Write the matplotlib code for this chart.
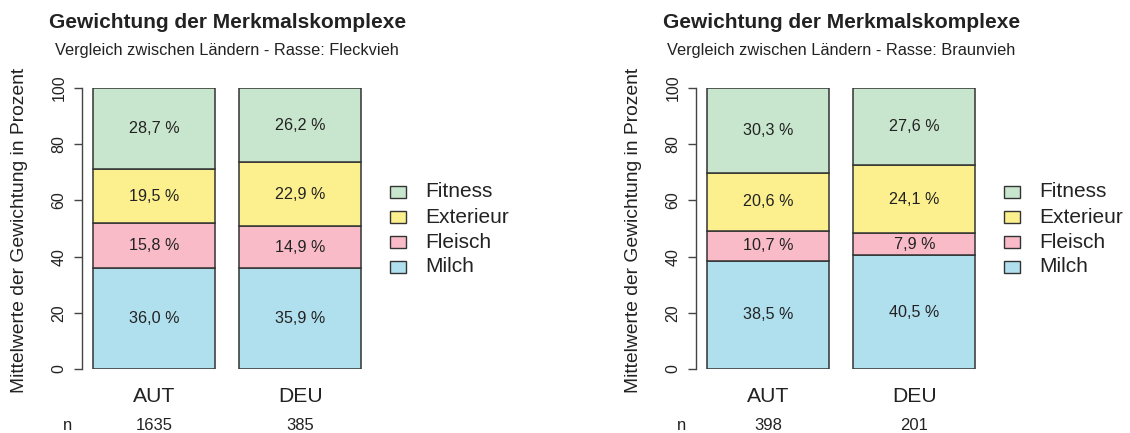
import matplotlib
matplotlib.use("Agg")
import matplotlib.pyplot as plt
from matplotlib.patches import Rectangle

plt.rcParams['font.family'] = ['Liberation Sans', 'DejaVu Sans']

countries = ["AUT", "DEU"]
categories = ["Milch", "Fleisch", "Exterieur", "Fitness"]
colors = ["#B0DFEE", "#F8BBC7", "#FCF08E", "#C8E6CD"]

fleckvieh = {
    "Milch": [36.0, 35.9],
    "Fleisch": [15.8, 14.9],
    "Exterieur": [19.5, 22.9],
    "Fitness": [28.7, 26.2],
}
braunvieh = {
    "Milch": [38.5, 40.5],
    "Fleisch": [10.7, 7.9],
    "Exterieur": [20.6, 24.1],
    "Fitness": [30.3, 27.6],
}
n_fleckvieh = [1635, 385]
n_braunvieh = [398, 201]

title = "Gewichtung der Merkmalskomplexe"
subtitles = ["Vergleich zwischen Ländern - Rasse: Fleckvieh",
             "Vergleich zwischen Ländern - Rasse: Braunvieh"]
ylabel = "Mittelwerte der Gewichtung in Prozent"

W, H = 1130, 433
fig = plt.figure(figsize=(W / 100, H / 100), dpi=100)
TXT = "#222222"
EDGE = "#333333"


def fx(px):
    return px / W


def fy(py):
    return 1 - py / H


def fmt(v):
    return f"{v:.1f}".replace(".", ",") + " %"


def panel(axis_x, data, ns, subtitle):
    unit = 122.0
    x0 = 0.11
    width_px = 300
    ax = fig.add_axes([fx(axis_x), fy(369), width_px / W, (369 - 88) / H])
    ax.set_xlim(x0, x0 + width_px / unit)
    ax.set_ylim(0, 100)
    centers = [0.7, 1.9]
    bottoms = [0.0, 0.0]
    for cat, col in zip(categories, colors):
        vals = data[cat]
        ax.bar(centers, vals, width=1.0, bottom=bottoms, color=col,
               edgecolor=EDGE, linewidth=1.1, zorder=2)
        for c, b, v in zip(centers, bottoms, vals):
            ax.text(c, b + v / 2, fmt(v), ha="center", va="center",
                    fontsize=11.6, color=TXT)
        bottoms = [b + v for b, v in zip(bottoms, vals)]
    for s in ["top", "right", "bottom"]:
        ax.spines[s].set_visible(False)
    ax.spines["left"].set_bounds(0, 100)
    ax.spines["left"].set_color("#444444")
    ax.spines["left"].set_linewidth(1.0)
    ax.set_xticks([])
    ax.set_yticks([0, 20, 40, 60, 80, 100])
    ax.tick_params(axis="y", length=6, width=1.0, color="#444444",
                   labelsize=11.5, labelcolor=TXT, pad=5)
    for lab in ax.get_yticklabels():
        lab.set_rotation(90)
        lab.set_va("center")
    ax.patch.set_visible(False)

    cpx = [axis_x + (c - x0) * unit for c in centers]
    mid = (cpx[0] + cpx[1]) / 2
    fig.text(fx(mid), fy(23), title, ha="center", va="center",
             fontsize=15, fontweight="bold", color=TXT)
    fig.text(fx(mid), fy(51), subtitle, ha="center", va="center",
             fontsize=11.8, color=TXT)
    fig.text(fx(axis_x - 62), fy(230), ylabel, ha="center", va="center",
             rotation=90, fontsize=13.9, color=TXT)
    for c, lab, n in zip(cpx, countries, ns):
        fig.text(fx(c), fy(397), lab, ha="center", va="center",
                 fontsize=15.2, color=TXT)
        fig.text(fx(c), fy(425), str(n), ha="center", va="center",
                 fontsize=12, color=TXT)
    fig.text(fx(axis_x - 14), fy(425), "n", ha="center", va="center",
             fontsize=12, color=TXT)

    rows = [("Fitness", colors[3], 192), ("Exterieur", colors[2], 217),
            ("Fleisch", colors[1], 242), ("Milch", colors[0], 267)]
    for lab, col, yy in rows:
        bx = axis_x + 308
        fig.patches.append(Rectangle((fx(bx), fy(yy + 6)), 16 / W, 12 / H,
                                     transform=fig.transFigure,
                                     facecolor=col, edgecolor=EDGE,
                                     linewidth=1.0))
        fig.text(fx(axis_x + 343), fy(yy), lab, ha="left", va="center",
                 fontsize=15, color=TXT)


panel(82, fleckvieh, n_fleckvieh, subtitles[0])
panel(696, braunvieh, n_braunvieh, subtitles[1])

fig.savefig("out.png", dpi=100, facecolor="white")
